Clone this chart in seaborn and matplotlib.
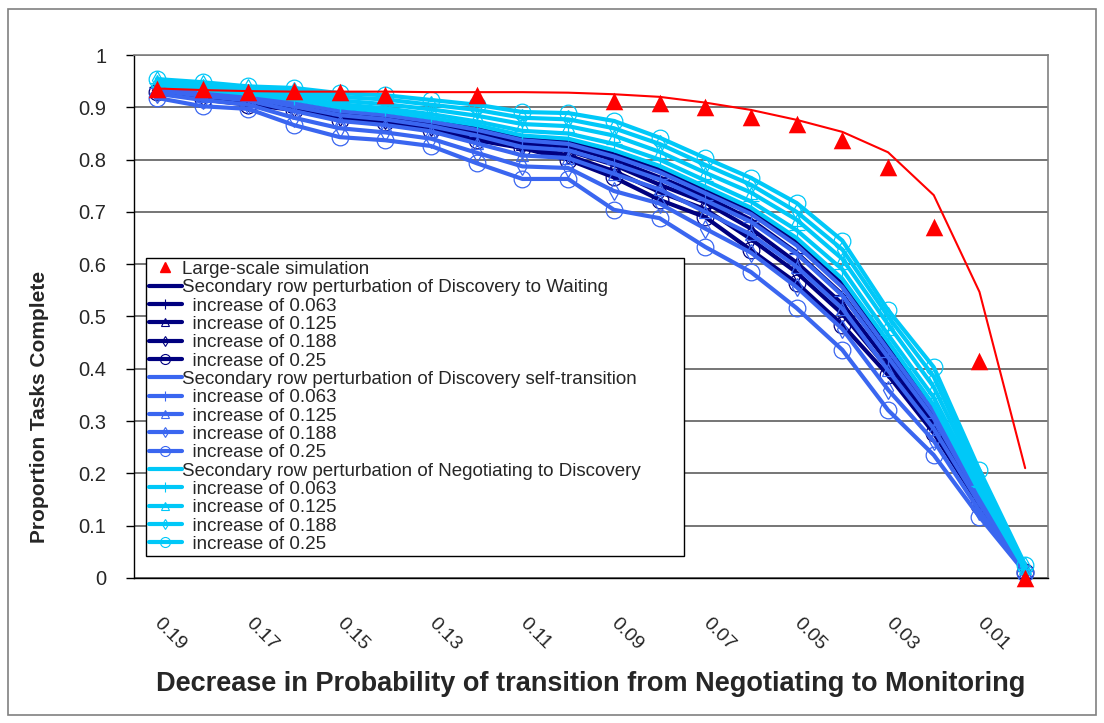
import numpy as np
import seaborn as sns
import matplotlib
matplotlib.use("Agg")
import matplotlib.pyplot as plt
from matplotlib.lines import Line2D
from matplotlib.patches import Rectangle

# x categories (decrease in probability), left to right
categories = ["0.19", "0.18", "0.17", "0.16", "0.15", "0.14", "0.13", "0.12", "0.11", "0.10",
              "0.09", "0.08", "0.07", "0.06", "0.05", "0.04", "0.03", "0.02", "0.01", "0.00"]

# large-scale simulation (triangles, some points missing) and the red reference curve
sim_points = [0.935, 0.935, 0.929, 0.932, 0.930, 0.924, np.nan, 0.924, np.nan, np.nan,
              0.912, 0.908, 0.900, 0.881, 0.868, 0.837, 0.786, 0.671, 0.415, 0.0]
red_curve = [0.936, 0.933, 0.931, 0.930, 0.930, 0.930, 0.929, 0.929, 0.929, 0.928,
             0.925, 0.920, 0.909, 0.895, 0.876, 0.853, 0.814, 0.732, 0.547, 0.21]

# Discovery to Waiting (navy)
dw_base = [0.941, 0.931, 0.923, 0.911, 0.896, 0.888, 0.876, 0.861, 0.841, 0.834,
           0.811, 0.781, 0.742, 0.702, 0.642, 0.562, 0.442, 0.322, 0.160, 0.015]
dw_063 = [0.938, 0.927, 0.919, 0.906, 0.891, 0.884, 0.871, 0.855, 0.835, 0.825,
          0.800, 0.766, 0.730, 0.685, 0.622, 0.542, 0.425, 0.310, 0.155, 0.014]
dw_125 = [0.936, 0.924, 0.915, 0.902, 0.887, 0.880, 0.867, 0.849, 0.830, 0.817,
          0.790, 0.752, 0.718, 0.668, 0.603, 0.524, 0.412, 0.300, 0.150, 0.014]
dw_188 = [0.933, 0.920, 0.910, 0.898, 0.882, 0.876, 0.862, 0.843, 0.826, 0.808,
          0.778, 0.738, 0.705, 0.648, 0.584, 0.505, 0.400, 0.290, 0.145, 0.013]
dw_25 = [0.930, 0.915, 0.905, 0.895, 0.876, 0.872, 0.857, 0.837, 0.822, 0.800,
         0.766, 0.723, 0.690, 0.627, 0.564, 0.484, 0.388, 0.277, 0.140, 0.012]

# Discovery self-transition (royal blue)
ds_base = [0.939, 0.929, 0.921, 0.908, 0.893, 0.885, 0.873, 0.857, 0.837, 0.830,
           0.806, 0.776, 0.736, 0.696, 0.636, 0.556, 0.436, 0.318, 0.158, 0.015]
ds_063 = [0.937, 0.927, 0.918, 0.902, 0.885, 0.877, 0.864, 0.846, 0.824, 0.818,
          0.792, 0.762, 0.722, 0.681, 0.620, 0.540, 0.422, 0.305, 0.152, 0.014]
ds_125 = [0.932, 0.922, 0.913, 0.893, 0.874, 0.866, 0.854, 0.831, 0.808, 0.803,
          0.773, 0.743, 0.700, 0.657, 0.595, 0.515, 0.397, 0.285, 0.142, 0.013]
ds_188 = [0.926, 0.914, 0.905, 0.880, 0.860, 0.852, 0.840, 0.813, 0.787, 0.784,
          0.740, 0.716, 0.668, 0.622, 0.556, 0.476, 0.360, 0.262, 0.128, 0.012]
ds_25 = [0.918, 0.902, 0.897, 0.866, 0.843, 0.837, 0.826, 0.793, 0.763, 0.763,
         0.704, 0.688, 0.633, 0.585, 0.516, 0.436, 0.321, 0.235, 0.117, 0.010]

# Negotiating to Discovery (sky blue)
nd_base = [0.943, 0.934, 0.926, 0.915, 0.900, 0.892, 0.880, 0.866, 0.846, 0.840,
           0.818, 0.788, 0.748, 0.708, 0.650, 0.572, 0.452, 0.330, 0.165, 0.016]
nd_063 = [0.947, 0.938, 0.930, 0.920, 0.906, 0.898, 0.887, 0.873, 0.855, 0.850,
          0.830, 0.800, 0.760, 0.720, 0.665, 0.590, 0.465, 0.345, 0.175, 0.018]
nd_125 = [0.950, 0.942, 0.934, 0.926, 0.913, 0.906, 0.896, 0.884, 0.868, 0.864,
          0.846, 0.815, 0.775, 0.737, 0.685, 0.610, 0.485, 0.365, 0.185, 0.020]
nd_188 = [0.952, 0.945, 0.937, 0.932, 0.920, 0.915, 0.905, 0.895, 0.880, 0.877,
          0.860, 0.830, 0.790, 0.752, 0.700, 0.628, 0.500, 0.385, 0.195, 0.022]
nd_25 = [0.954, 0.948, 0.940, 0.937, 0.927, 0.923, 0.914, 0.905, 0.891, 0.889,
         0.874, 0.842, 0.803, 0.765, 0.717, 0.645, 0.512, 0.403, 0.206, 0.025]

groups = [
    ("Secondary row perturbation of Discovery to Waiting", "#00007f",
     [dw_base, dw_063, dw_125, dw_188, dw_25]),
    ("Secondary row perturbation of Discovery self-transition", "#3a66f0",
     [ds_base, ds_063, ds_125, ds_188, ds_25]),
    ("Secondary row perturbation of Negotiating to Discovery", "#00c8f8",
     [nd_base, nd_063, nd_125, nd_188, nd_25]),
]
increase_labels = ["  increase of 0.063", "  increase of 0.125", "  increase of 0.188", "  increase of 0.25"]
markers = [None, "+", "^", "d", "o"]
marker_sizes = [0, 12, 9, 9, 12]

sns.set_theme(style="white")
plt.rcParams["font.family"] = ["Liberation Sans", "DejaVu Sans"]

fig = plt.figure(figsize=(11.04, 7.23), dpi=100)
ax = fig.add_axes([0.1214, 0.2006, 0.8279, 0.7233])
xpos = np.arange(len(categories))

handles, labels = [], []
handles.append(Line2D([], [], color="red", marker="^", linestyle="none", markersize=7))
labels.append("Large-scale simulation")

for title, color, series in groups:
    for i, vals in enumerate(series):
        kw = dict(color=color, linewidth=3.0, zorder=3)
        if markers[i] is not None:
            kw.update(marker=markers[i], markersize=marker_sizes[i],
                      markerfacecolor="none", markeredgecolor=color, markeredgewidth=0.9)
        sns.lineplot(x=xpos, y=vals, ax=ax, legend=False, **kw)
        ax.lines[-1].set_clip_on(False)
        # smaller proxy for the legend
        proxy = Line2D([], [], color=color, linewidth=3.0, marker=markers[i],
                       markersize=marker_sizes[i] * 0.6, markerfacecolor="none",
                       markeredgecolor=color, markeredgewidth=0.8)
        handles.append(proxy)
        labels.append(title if i == 0 else increase_labels[i - 1])

# red curve and simulation triangles on top
sns.lineplot(x=xpos, y=red_curve, ax=ax, color="red", linewidth=1.5, legend=False, zorder=5)
sns.scatterplot(x=xpos, y=sim_points, ax=ax, color="red", marker="^", s=160,
                linewidth=0, zorder=6, legend=False, clip_on=False)

ax.set_xlim(-0.5, len(categories) - 0.5)
ax.set_ylim(0, 1)
ax.set_yticks(np.arange(0, 1.01, 0.1))
ax.set_yticklabels(["0", "0.1", "0.2", "0.3", "0.4", "0.5", "0.6", "0.7", "0.8", "0.9", "1"])
ax.yaxis.grid(True, color="#505050", linewidth=1.1)
ax.set_axisbelow(True)

ax.set_xticks(xpos[::2])
ax.set_xticklabels(categories[::2], rotation=-45, rotation_mode="anchor", ha="left", va="center")
ax.set_xticks(np.arange(-0.5, len(categories), 1), minor=True)
ax.tick_params(axis="x", which="major", length=0, pad=31, labelsize=14)
ax.tick_params(axis="x", which="minor", length=6, width=1, direction="out", color="black")
ax.tick_params(axis="y", which="major", length=6, width=1, direction="out", color="black",
               labelsize=14.5, left=True, pad=14)

for side in ["top", "right"]:
    ax.spines[side].set_color("#808080")
    ax.spines[side].set_linewidth(1.2)
for side in ["left", "bottom"]:
    ax.spines[side].set_color("black")
    ax.spines[side].set_linewidth(1.0)

ax.set_xlabel("Decrease in Probability of transition from Negotiating to Monitoring",
              fontsize=19.5, fontweight="bold", labelpad=12)
ax.set_ylabel("Proportion Tasks Complete", fontsize=15, fontweight="bold")
ax.yaxis.set_label_coords(-0.093, 0.327)

leg = ax.legend(handles, labels, loc="upper left", bbox_to_anchor=(0.013, 0.046, 0.589, 0.566),
                mode="expand", fontsize=13.5, frameon=True, fancybox=False, borderaxespad=0,
                handlelength=1.75, handletextpad=0.05, labelspacing=0.065,
                borderpad=0.15, framealpha=1)
leg.get_frame().set_edgecolor("black")
leg.get_frame().set_linewidth(1.0)
leg.set_zorder(10)

fig.patches.append(Rectangle((8 / 1104, 8 / 723), 1088 / 1104, 706 / 723, transform=fig.transFigure,
                             fill=False, edgecolor="#808080", linewidth=1.2))

fig.savefig("out.png", dpi=100)
